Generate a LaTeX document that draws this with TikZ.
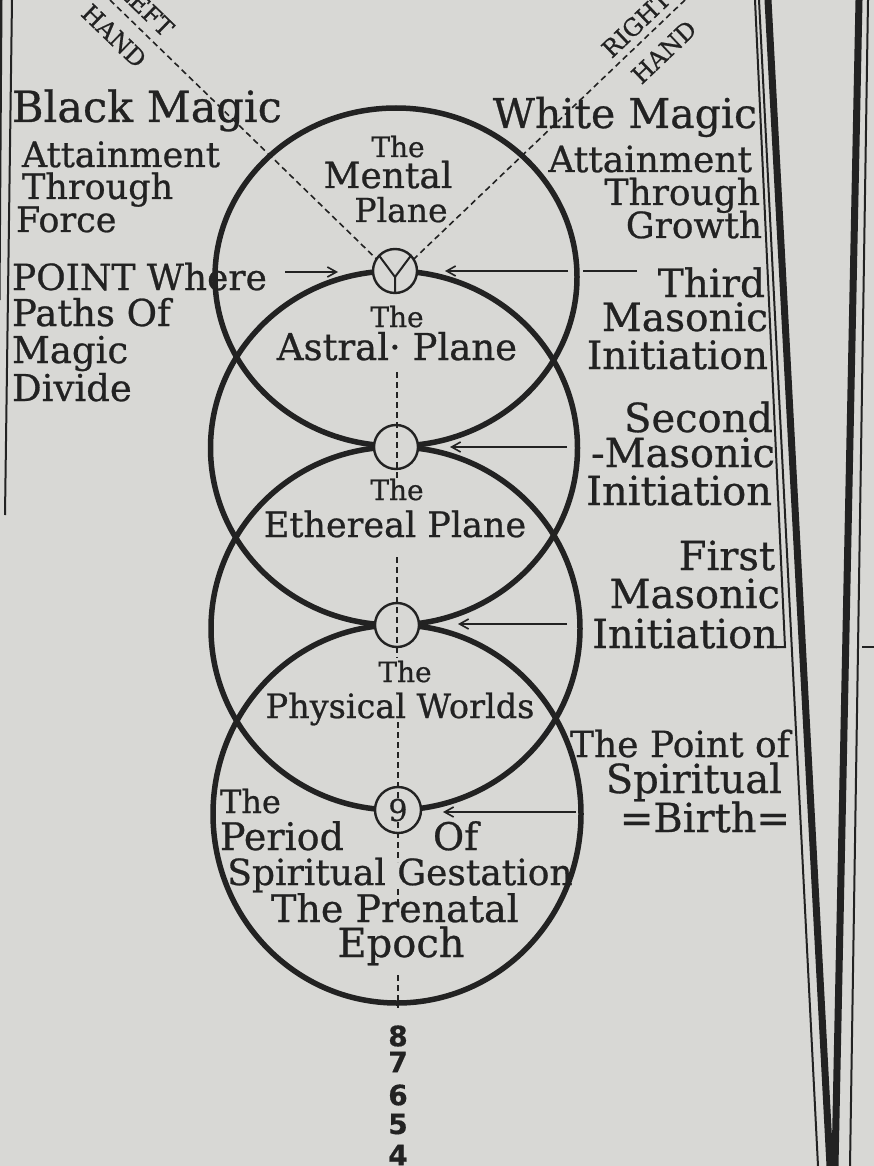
\documentclass[tikz,border=0pt]{standalone}
\usepackage{fontspec}
\setmainfont{DejaVu Serif}[FakeBold=0.7]
\newfontfamily\digitfont{DejaVu Sans}[FakeBold=0.5]
\usetikzlibrary{arrows.meta}
\definecolor{paper}{RGB}{216,216,213}
\definecolor{ink}{RGB}{34,34,34}
\newcommand\fsz[1]{\fontsize{#1}{#1}\selectfont}

\begin{document}
\begin{tikzpicture}[x=1pt,y=-1pt,
  txt/.style={text=ink, inner sep=0pt, outer sep=0pt},
  bigring/.style={draw=ink, line width=5.5pt},
  smallring/.style={circle, draw=ink, fill=paper, line width=2.4pt, minimum size=44pt, inner sep=0pt, outer sep=0pt},
  dashline/.style={draw=ink, line width=1.6pt, dash pattern=on 6pt off 4pt},
  pointer/.style={draw=ink, line width=1.6pt, -{Straight Barb[length=9pt,width=10pt]}},
  rulel/.style={draw=ink, line width=1.6pt},
  yline/.style={draw=ink, line width=2pt},
  gutter/.style={draw=ink, line width=7pt},
  pageedge/.style={draw=ink, line width=2pt},
]
\fill[paper] (0,0) rectangle (874,1166);
\useasboundingbox (0,0) rectangle (874,1166);

% book gutter and frame
\draw[pageedge] (12,0) -- (5,515);
\draw[draw=ink, line width=3pt] (1,0) -- (-1,300);
\draw[gutter] (768,0) -- (830,1166);
\draw[gutter] (859,0) -- (835,1166);
\draw[pageedge] (759,0) -- (818,1166);
\draw[pageedge] (868,0) -- (850,1166);
\draw[pageedge] (755,0) -- (785,647) -- (776,647);
\draw[pageedge] (862,647) -- (874,647);

% big rings
\draw[bigring] (396,277) ellipse [x radius=181pt, y radius=169pt];
\draw[bigring] (394,448) ellipse [x radius=183.5pt, y radius=177pt];
\draw[bigring] (395.5,628.5) ellipse [x radius=184.5pt, y radius=181.5pt];
\draw[bigring] (397,814) ellipse [x radius=184pt, y radius=189pt];

% hand paths
\coordinate (J) at (395,277);
\coordinate (lhtop) at (110,0);
\coordinate (rhtop) at (685,0);
\draw[dashline] (lhtop) -- (J);
\draw[dashline] (rhtop) -- (J);

% small rings
\node[smallring] (cy) at (395,271) {};
\node[smallring] (c2) at (396,447) {};
\node[smallring] (c3) at (397,625) {};
\node[smallring, minimum size=46pt] (c9) at (398,810) {};

\draw[yline] (cy.136) -- (J) -- (cy.south);
\draw[yline] (cy.44) -- (J);

% vertical dashed axis
\coordinate (v1a) at (397,372); \coordinate (v1b) at (397,480);
\coordinate (v2a) at (397,557); \coordinate (v2b) at (397,658);
\coordinate (v3a) at (398,722); \coordinate (v3b) at (398,862);
\coordinate (v3c) at (398,889); \coordinate (v3d) at (398,903);
\coordinate (v3e) at (398,975); \coordinate (v3f) at (398,1008);
\draw[dashline] (v1a) -- (v1b);
\draw[dashline] (v2a) -- (v2b);
\draw[dashline] (v3a) -- (v3b);
\draw[dashline] (v3c) -- (v3d);
\draw[dashline] (v3e) -- (v3f);
\node[txt, font=\fsz{30}, fill=paper, inner sep=1pt] (nine) at (c9) {9};

% hand labels
\node[txt, font=\fsz{24}, rotate=-44] (lleft) at (146,9) {LEFT};
\node[txt, font=\fsz{24}, rotate=-44] (lhand) at (114,36) {HAND};
\node[txt, font=\fsz{24}, rotate=43.6] (rright) at (636,24) {RIGHT};
\node[txt, font=\fsz{24}, rotate=43.6] (rhand) at (664,52) {HAND};

% left texts
\node[txt, font=\fsz{43}, anchor=base west] (blackmagic) at (12,122) {Black Magic};
\node[txt, font=\fsz{35}, anchor=base west] (latt) at (22,167) {Attainment};
\node[txt, font=\fsz{35}, anchor=base west] (lthr) at (22,199) {Through};
\node[txt, font=\fsz{35}, anchor=base west] (lforce) at (16,232) {Force};
\node[txt, font=\fsz{36}, anchor=base west] (pw) at (12,290) {POINT Where};
\node[txt, font=\fsz{37}, anchor=base west] (paths) at (12,326) {Paths Of};
\node[txt, font=\fsz{37}, anchor=base west] (magic) at (12,363) {Magic};
\node[txt, font=\fsz{37}, anchor=base west] (divide) at (12,401) {Divide};

% right texts
\node[txt, font=\fsz{41}, anchor=base east] (whitemagic) at (757,128) {White Magic};
\node[txt, font=\fsz{36}, anchor=base east] (ratt) at (752,172) {Attainment};
\node[txt, font=\fsz{36}, anchor=base east] (rthr) at (760,205) {Through};
\node[txt, font=\fsz{36}, anchor=base east] (rgrow) at (762,238) {Growth};
\node[txt, font=\fsz{39}, anchor=base east] (third) at (765,297) {Third};
\node[txt, font=\fsz{39}, anchor=base east] (mas3) at (768,331) {Masonic};
\node[txt, font=\fsz{39}, anchor=base east] (init3) at (768,369) {Initiation};
\node[txt, font=\fsz{40}, anchor=base east] (second) at (773,432) {Second};
\node[txt, font=\fsz{40}, anchor=base east] (mas2) at (775,467) {-Masonic};
\node[txt, font=\fsz{40}, anchor=base east] (init2) at (772,505) {Initiation};
\node[txt, font=\fsz{40}, anchor=base east] (first) at (775,570) {First};
\node[txt, font=\fsz{40}, anchor=base east] (mas1) at (780,608) {Masonic};
\node[txt, font=\fsz{40}, anchor=base east] (init1) at (778,648) {Initiation};
\node[txt, font=\fsz{36}, anchor=base east] (pointof) at (790,757) {The Point of};
\node[txt, font=\fsz{40}, anchor=base east] (spiritual) at (782,793) {Spiritual};
\node[txt, font=\fsz{40}, anchor=base east] (birth) at (790,832) {=Birth=};

% circle texts
\node[txt, font=\fsz{28}, anchor=base] (mthe) at (398,157) {The};
\node[txt, font=\fsz{36}, anchor=base] (mental) at (388,188) {Mental};
\node[txt, font=\fsz{33}, anchor=base] (mplane) at (401,222) {Plane};
\node[txt, font=\fsz{28}, anchor=base] (athe) at (397,327) {The};
\node[txt, font=\fsz{37}, anchor=base] (astral) at (397,360) {Astral· Plane};
\node[txt, font=\fsz{28}, anchor=base] (ethe) at (397,500) {The};
\node[txt, font=\fsz{35}, anchor=base] (ethereal) at (395,537) {Ethereal Plane};
\node[txt, font=\fsz{28}, anchor=base] (pthe) at (405,682) {The};
\node[txt, font=\fsz{33.5}, anchor=base] (physical) at (400,718) {Physical Worlds};
\node[txt, font=\fsz{32}, anchor=base west] (bthe) at (220,813) {The};
\node[txt, font=\fsz{38}, anchor=base west] (period) at (220,850) {Period};
\node[txt, font=\fsz{38}, anchor=base west] (of) at (433,850) {Of};
\node[txt, font=\fsz{36}, anchor=base] (gestation) at (400,885) {Spiritual Gestation};
\node[txt, font=\fsz{38}, anchor=base] (prenatal) at (395,922) {The Prenatal};
\node[txt, font=\fsz{40}, anchor=base] (epoch) at (401,957) {Epoch};

% numbers below
\node[txt, font=\digitfont\bfseries\fsz{28}] (n8) at (398,1036) {8};
\node[txt, font=\digitfont\bfseries\fsz{28}] (n7) at (398,1062) {7};
\node[txt, font=\digitfont\bfseries\fsz{28}] (n6) at (398,1095) {6};
\node[txt, font=\digitfont\bfseries\fsz{28}] (n5) at (398,1124) {5};
\node[txt, font=\digitfont\bfseries\fsz{28}] (n4) at (398,1155) {4};

% arrows
\coordinate (pwa) at (285,272); \coordinate (pwb) at (338,272);
\draw[pointer] (pwa) -- (pwb);
\coordinate (t0) at (637,271); \coordinate (t1) at (583,271);
\coordinate (t2) at (568,271); \coordinate (t3) at (445,271);
\draw[rulel] (t0) -- (t1);
\draw[pointer] (t2) -- (t3);
\coordinate (s0) at (567,447); \coordinate (s1) at (450,447);
\draw[pointer] (s0) -- (s1);
\coordinate (f0) at (567,624); \coordinate (f1) at (458,624);
\draw[pointer] (f0) -- (f1);
\coordinate (b0) at (576,812); \coordinate (b1) at (443,812);
\draw[pointer] (b0) -- (b1);
\end{tikzpicture}
\end{document}
